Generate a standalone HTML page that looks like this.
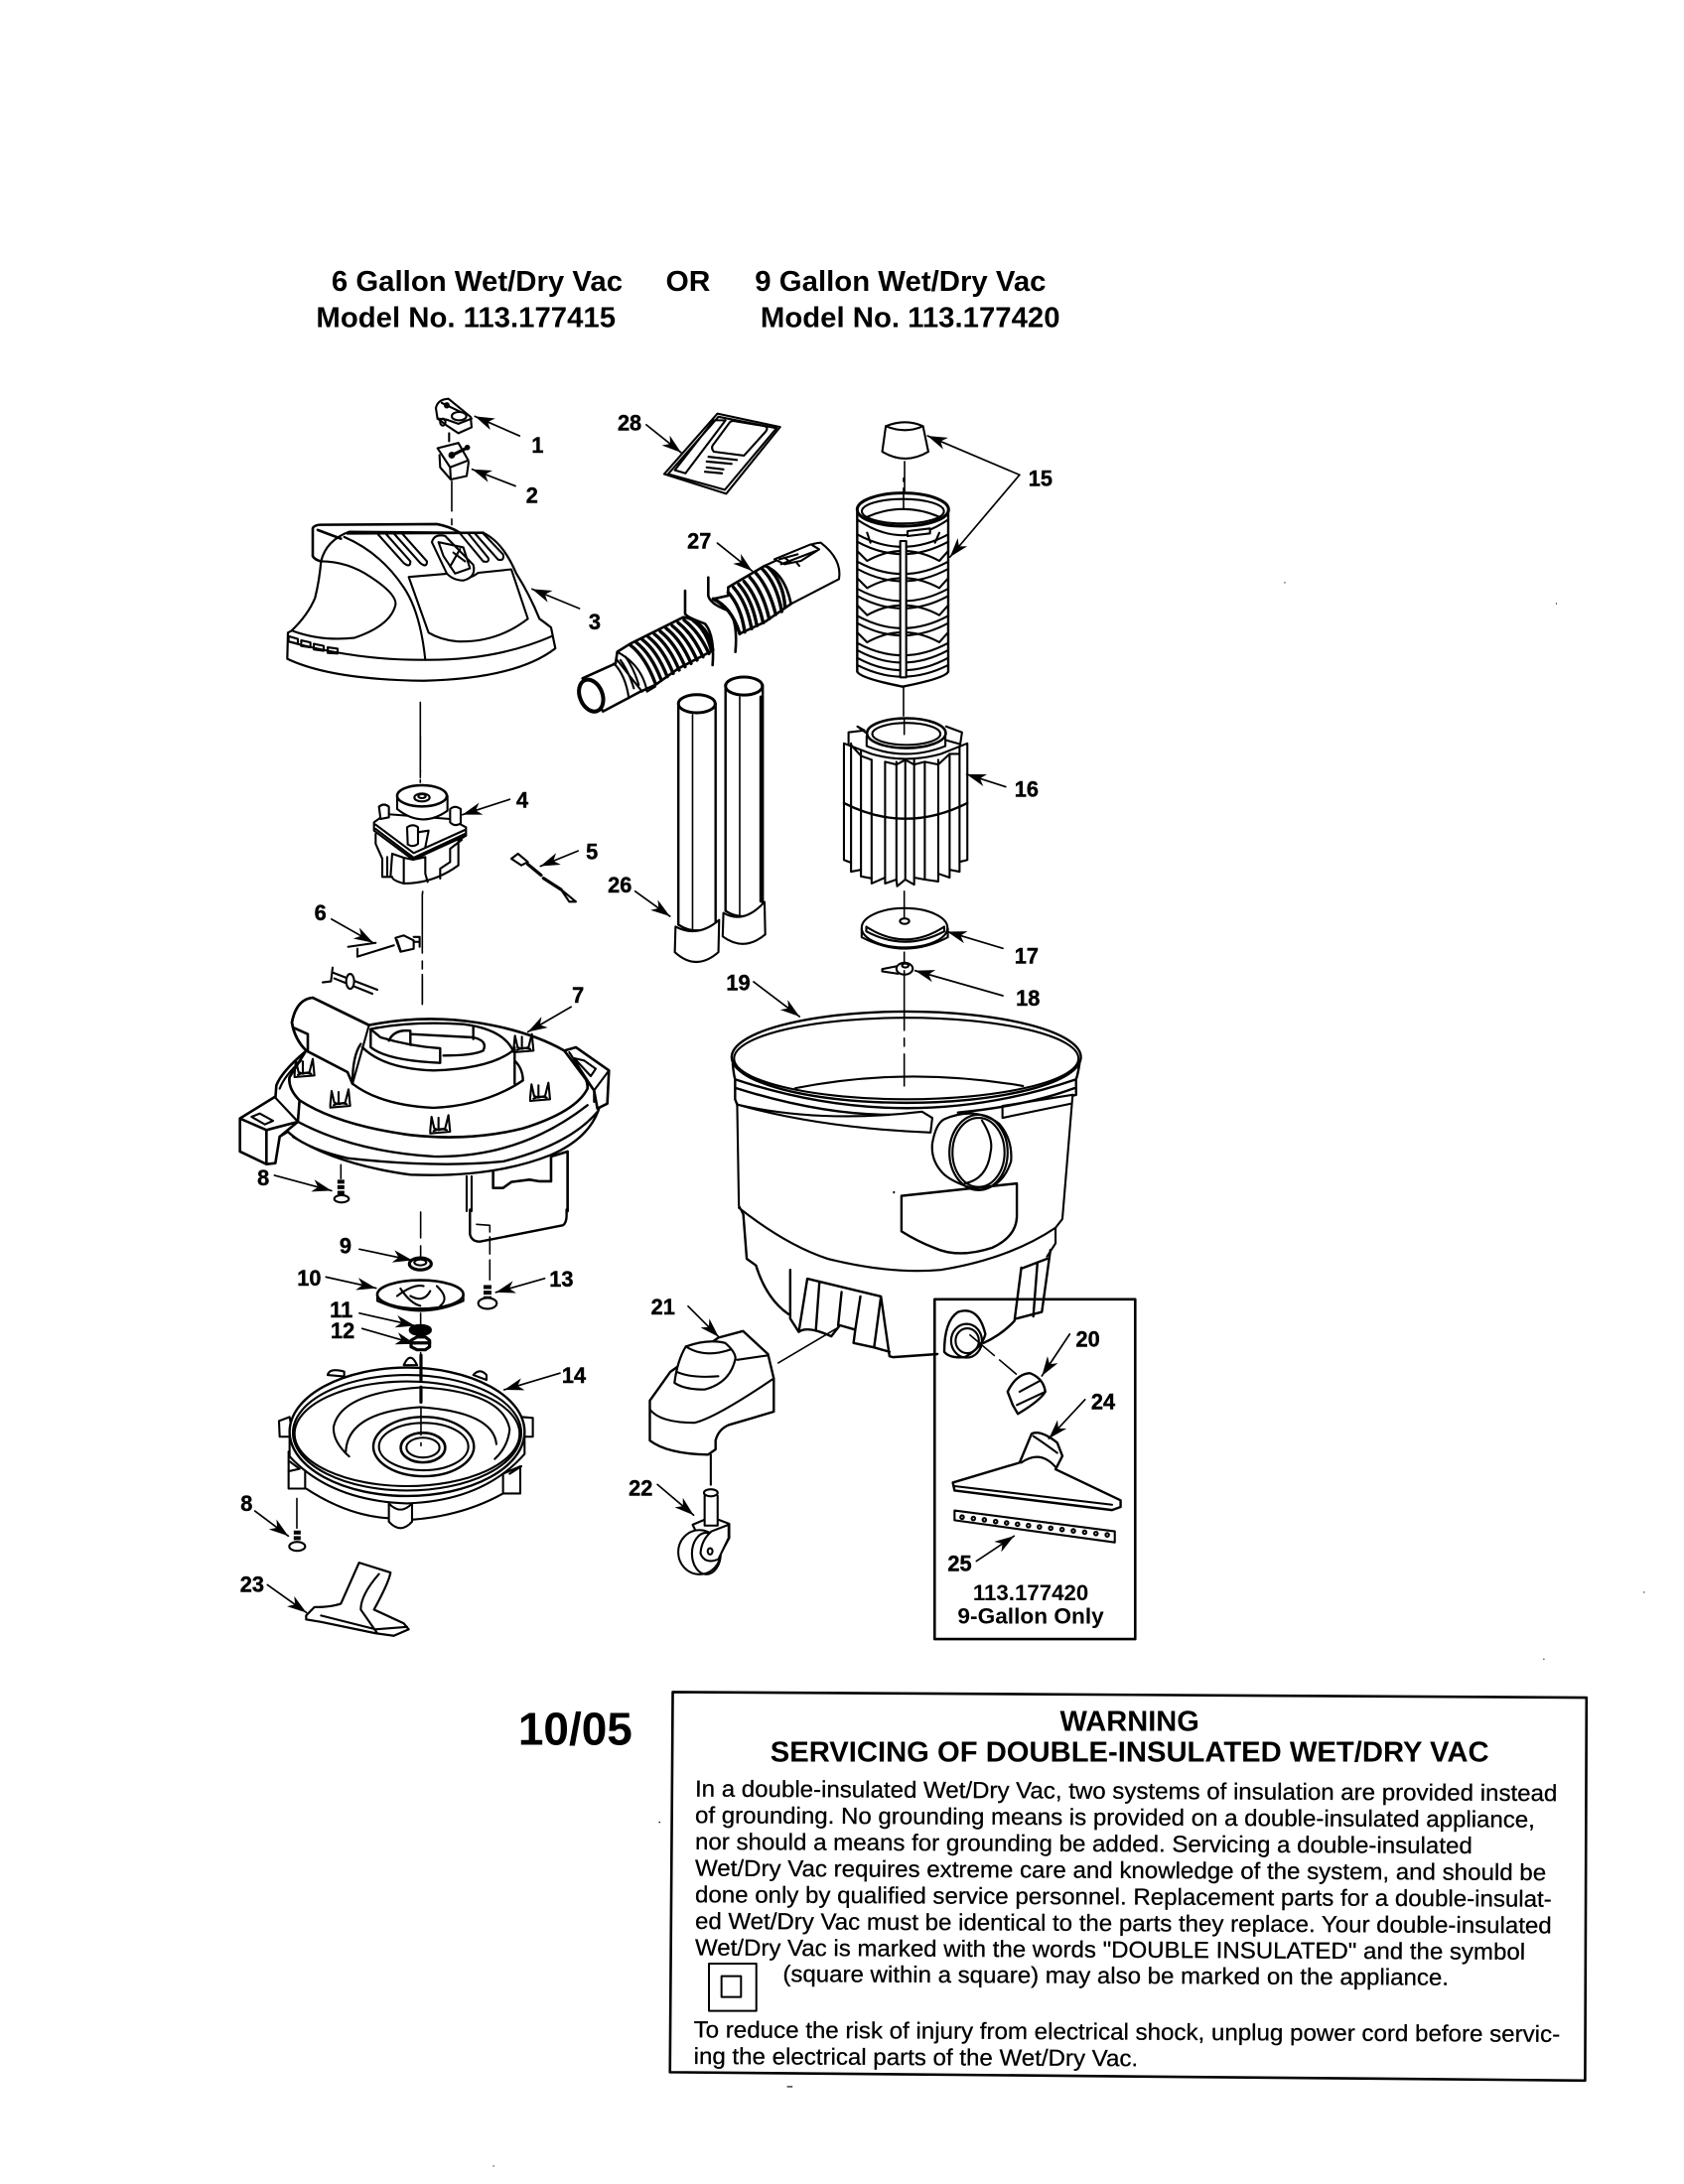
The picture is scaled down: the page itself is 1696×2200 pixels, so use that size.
<!DOCTYPE html>
<html><head><meta charset="utf-8"><style>
html,body{margin:0;padding:0;background:#fff}
svg{display:block}
path,ellipse,line,rect,polygon,circle{vector-effect:non-scaling-stroke;fill:none;stroke:#000;stroke-width:2.1;stroke-linejoin:round;stroke-linecap:round}
.w{fill:#fff}
.k{fill:#000;stroke:none}
.t{stroke-width:3.2}
.h{stroke-width:1.6}
.d{stroke-dasharray:34 7 7 7;stroke-width:1.6}
.a{stroke-width:1.7}
.th{stroke-width:7;stroke-dasharray:4 1.6;stroke-linecap:butt}
marker path{fill:#000;stroke:none}
text{font-family:"Liberation Sans",sans-serif;font-weight:bold;fill:#000}
.n{font-size:15.5px;text-anchor:middle;stroke:#000;stroke-width:.3px}
.b{font-weight:normal;font-size:16.6px;stroke:#000;stroke-width:.2px}
</style></head><body>
<svg xmlns="http://www.w3.org/2000/svg" width="1696" height="2200" viewBox="0 0 1696 2200">
<defs>
<marker id="m" markerUnits="userSpaceOnUse" markerWidth="15" markerHeight="9" viewBox="0 0 15 9" refX="14" refY="4.5" orient="auto"><path d="M0 0L14 4.5L0 9L4 4.5Z"/></marker>
<g id="clip"><path d="M-30 15L-26 -25L-18 10L-5 15L15 10L25 -30L30 20L-30 25Z"/><path d="M-5 -22V14M-20 18Q0 8 20 15"/></g>
</defs>
<rect width="1696" height="2200" style="fill:#fff;stroke:none"/>

<!-- ZOOM 1 : parts 1,2,3 -->
<g transform="translate(200,220) scale(.3333,.3507)">
<path class="w" d="M717 545Q722 520 755 518L822 570L825 600L785 617L750 595L722 575Z"/>
<path d="M735 530L790 555M722 575L750 578L785 590L825 575"/>
<ellipse cx="787" cy="568" rx="22" ry="12"/><circle cx="750" cy="537" r="6"/><ellipse cx="738" cy="585" rx="8" ry="10"/>
<path d="M757 617V640"/>
<path class="w" d="M722 660L785 645L815 695L760 715Z"/>
<path d="M728 680L730 715L762 750L810 740L816 700M760 715L762 750"/>
<path class="t" d="M762 682L815 657"/><circle cx="765" cy="680" r="7"/><circle cx="812" cy="658" r="5"/>
<path class="h" d="M765 755V880" stroke-dasharray="30 8"/>
<path class="w" style="stroke-width:2.2" d="M270 1190L268 1265Q400 1325 680 1328Q960 1322 1078 1235L1065 1175Q1045 1160 1030 1150Q1000 1080 960 1020Q920 930 860 903L455 900Q385 925 370 985Q365 1040 352 1090Q330 1140 280 1185Z"/>
<path style="stroke-width:2.6" d="M345 890Q350 880 370 880L720 878Q760 885 790 903M345 890L345 970Q350 980 370 985M360 895L430 920M450 905L860 903"/>
<path d="M370 985Q450 985 520 1030Q600 1080 595 1110Q580 1170 470 1205Q370 1215 285 1185"/>
<path d="M440 915Q550 960 620 1060Q670 1130 685 1268"/>
<path d="M635 1030L760 1020Q800 1050 845 1018L945 1008L995 1150Q900 1220 780 1215Q730 1210 695 1190Z"/>
<path d="M270 1215Q480 1270 685 1268Q900 1270 1068 1200"/>
<path d="M540 905L620 990Q640 1005 640 985L565 905M590 905L670 990Q690 1005 690 985L615 905M790 905L860 985Q880 990 875 975L815 905M835 905L905 980Q925 985 920 965L860 905"/>
<path class="w" d="M705 930Q712 905 745 912L830 995Q840 1030 800 1040Q770 1040 750 1020Z"/>
<path d="M725 930L800 945L820 1005L775 1020L740 970Z"/><path d="M760 1000L790 950M770 960L805 985"/>
<path d="M272 1200L300 1208L300 1222L272 1215ZM310 1212L338 1218V1232L310 1228ZM348 1222L378 1228V1242L348 1238ZM390 1232L420 1236V1250L390 1248Z"/>
<path class="h" d="M670 1390V1620" stroke-dasharray="70 8 8 8"/>
</g>

<!-- ZOOM 2 : parts 16,17,18,26,28, cap 15 -->
<g transform="translate(560,370) scale(.3571,.3954)">
<path d="M305 272L455 118L632 152L480 322Z"/>
<path d="M316 272L458 126L622 155L476 312ZM335 262L445 135L478 135L365 270Z"/>
<path d="M490 140Q495 135 510 138L590 150Q600 155 590 165L530 225L445 215Q435 205 445 195Z"/>
<path style="stroke-width:2.2" d="M430 228L510 236M425 240L495 246M425 255L472 260M420 266L468 270"/>
<path class="w" style="stroke-width:2.4" d="M345 857V1420Q395 1450 450 1420V857"/>
<ellipse class="w" style="stroke-width:3" cx="397" cy="857" rx="52" ry="23"/>
<path class="h" d="M385 885V1440"/>
<path class="w" d="M337 1425L335 1490Q395 1540 458 1490L460 1408Q400 1455 337 1425Z"/>
<path class="w" style="stroke-width:2.4" d="M478 810V1385Q530 1415 583 1380V810"/>
<ellipse class="w" style="stroke-width:3" cx="530" cy="812" rx="52" ry="23"/>
<path class="h" d="M518 840V1395"/><path class="t" d="M578 840V1360"/>
<path class="w" d="M472 1390L470 1450Q530 1490 590 1445L588 1362Q530 1420 472 1390Z"/>
<path class="w" d="M930 150Q985 130 1035 150L1050 215Q985 250 920 215Z"/>
<path d="M930 150Q985 170 1035 150"/>
<path class="h" d="M983 240V320" stroke-dasharray="30 8"/>
<path class="h" d="M980 812V890" stroke-dasharray="30 8"/>
<!-- 16 -->
<path d="M825 930L870 925L850 915L880 935M1100 915L1145 930L1140 960L1100 950M825 930V960"/>
<path class="w" d="M812 958V1255L832 1262V1285L860 1280V1297L890 1302V1315L928 1300V1315L960 1305L962 1322L985 1305L1010 1318L1010 1300L1040 1305L1078 1310V1290L1110 1300V1280L1138 1285V1260L1160 1255V958L1085 985Q985 1010 890 985Z"/>
<path d="M832 958V1262M860 975V1280M890 1000V1302M928 1005V1300M960 1005V1305M985 1000V1305M1010 1000V1300M1040 1005V1305M1078 1000V1290M1110 985V1280M1138 965V1260"/>
<path d="M832 962L860 990L890 1000M928 1005L960 1012L985 1000L1010 1012L1040 1005L1078 1012L1110 985L1138 985"/>
<path style="stroke-width:2.4" d="M812 1110Q985 1190 1160 1110"/>
<path class="w" d="M876 940V965Q985 1005 1098 965V940"/>
<ellipse class="w" style="stroke-width:2.6" cx="988" cy="932" rx="111" ry="38"/><ellipse cx="988" cy="934" rx="96" ry="28"/>
<path class="h" d="M982 895V935M982 1335V1400" stroke-dasharray="30 8"/>
<!-- 17 -->
<path class="w" d="M862 1430V1452Q985 1510 1105 1452V1430"/>
<ellipse class="w" cx="983" cy="1428" rx="121" ry="50"/>
<path d="M875 1425Q985 1490 1095 1425V1437Q985 1490 875 1437Z"/>
<ellipse cx="983" cy="1411" rx="13" ry="7"/>
<path d="M982 1380V1402" class="h"/>
<!-- 18 -->
<path class="w" d="M920 1533L965 1525V1545L920 1539Z"/>
<ellipse class="w" cx="983" cy="1532" rx="23" ry="15"/><ellipse cx="985" cy="1524" rx="9" ry="5"/>
<path class="h" d="M982 1490V1518"/>
</g>

<!-- Filter cage, exact coords -->
<g transform="translate(840,480) scale(.3333)">
<path class="h" d="M210 5V15M210 35V122"/>
<path class="w" style="stroke-width:2.4" d="M70 100V590Q80 610 207 635Q335 610 345 590V100"/>
<ellipse style="stroke-width:3" cx="208" cy="100" rx="138" ry="50"/>
<ellipse cx="208" cy="105" rx="124" ry="37"/>
<path d="M100 122Q208 75 318 122M70 130Q208 225 345 130"/>
<path d="M70 175Q207 250 345 175M70 197Q207 272 345 197M100 255Q207 195 318 255M70 225L100 255M345 225L318 255"/>
<path d="M70 257Q207 332 345 257M70 279Q207 354 345 279M100 337Q207 277 318 337M70 307L100 337M345 307L318 337"/>
<path d="M70 339Q207 414 345 339M70 361Q207 436 345 361M100 419Q207 359 318 419M70 389L100 419M345 389L318 419"/>
<path d="M70 421Q207 496 345 421M70 443Q207 518 345 443M100 501Q207 441 318 501M70 471L100 501M345 471L318 501"/>
<path d="M70 503Q207 578 345 503M70 525Q207 600 345 525M70 548Q207 623 345 548M70 570Q207 640 345 570"/>
<path d="M100 170L110 200M318 170L305 200"/>
<rect class="w" x="200" y="195" width="18" height="412"/>
<path class="w" d="M222 165L290 157V172L222 180Z"/>
</g>

<!-- Hoses, exact coords -->
<g transform="translate(570,540) scale(.3333)">
<path style="stroke-width:2.6" d="M360 165V235Q365 245 420 265Q450 300 443 390"/>
<path style="stroke-width:2.6" d="M430 125V180Q435 205 490 225Q520 255 512 350"/>
<path class="w" style="stroke-width:2.6" d="M50 430L150 385L155 350L195 325L355 245Q430 260 445 345L340 400L270 450L225 470L112 530Z"/>
<ellipse class="w" style="stroke-width:4" cx="76" cy="482" rx="34" ry="50" transform="rotate(-22 76 482)"/>
<path d="M145 385Q180 420 190 490M155 375L230 470M165 375Q190 410 205 460M180 365Q205 400 220 450"/>
<path d="M155 350Q230 390 245 470L270 455"/>
<path class="t" style="stroke-width:3.4" d="M195 330q45 35 75 115M213 322q45 35 75 113M231 313q45 35 75 112M249 305q45 35 75 110M267 296q45 35 75 109M285 288q45 35 75 107M303 279q45 35 75 106M321 271q45 35 75 104M339 262q45 35 75 103M357 254q45 35 75 101M385 256q40 30 55 92"/>
<path class="w" d="M680 205L825 130Q835 70 770 20Q750 20 720 35L600 90Z"/>
<path class="w" d="M630 70L740 25L765 40L710 75L660 85Z"/>
<path d="M645 70L700 55M650 85L755 45M660 65L680 80M695 78L705 90"/>
<path class="w" style="stroke-width:2.6" d="M445 190L490 180L490 155L600 90Q660 110 680 205L600 260L525 295Q510 230 445 190Z"/>
<path class="t" style="stroke-width:3.4" d="M445 190q55 25 80 105M490 170q40 45 50 120M506 155q40 45 55 125M522 146q40 45 55 125M538 137q40 45 58 125M556 125q40 45 58 125M574 112q40 45 60 125M592 98q45 45 60 130M612 95q45 45 50 120"/>
</g>

<!-- MOTOR -->
<g transform="translate(340,740) scale(.3333)">
<path class="h" d="M250 5V130" stroke-dasharray="24 10"/>
<path class="w" d="M110 265L145 240L340 255L388 280V305L228 378L110 290Z"/>
<path class="w" d="M115 300V330L135 375V430H160L165 360L200 372L228 378L388 305L365 320V395Q290 450 200 450Q165 440 165 430"/>
<path d="M115 272L230 358L385 288M115 285L230 372L385 300"/>
<path d="M228 378L265 370V420L272 445M200 372V448M375 318L340 345V385L310 405V435M150 370V425"/>
<path class="w" d="M180 185V225Q255 285 332 230V185"/>
<ellipse class="w" style="stroke-width:2.5" cx="255" cy="185" rx="75" ry="32"/>
<ellipse cx="255" cy="190" rx="23" ry="12"/><ellipse cx="255" cy="186" rx="11" ry="6"/>
<path class="w" d="M125 218Q140 205 155 218V250L130 255Z"/>
<path class="w" d="M210 280Q228 268 243 280V330Q228 342 212 332Z"/>
<path class="w" d="M340 225Q355 212 372 225V268Q355 280 340 265Z"/>
<path d="M243 295L275 290L265 340"/>
<path class="h" d="M257 474V480"/>
<path class="w" d="M525 375L545 360L575 385L555 395Z"/>
<path class="t" d="M575 392L615 425M622 434L675 468"/>
<path d="M675 468L720 505L700 505Z"/>
</g>

<!-- Part 7 upper, exact coords -->
<g transform="translate(240,980) scale(.3333)">
<path class="h" d="M556 5V95"/>
<path class="w" style="stroke-width:2.6" d="M395 158L225 75Q175 80 162 150Q170 200 205 235L155 315Q150 350 185 385L180 450L112 380L115 340Q130 300 200 240"/>
<path class="w" d="M395 158Q560 125 720 150Q880 175 985 235Q1060 310 1055 350Q1020 420 860 470Q700 510 520 490Q300 460 185 385Q150 350 155 315L205 235L330 300L345 335Z"/>
<path style="stroke-width:2.6" d="M395 158L225 75Q175 80 162 150Q170 200 205 235L330 300L345 335M165 165L210 185V235"/>
<path style="stroke-width:2.6" d="M395 158Q560 125 720 150Q880 175 985 235Q1060 310 1055 350Q1020 420 860 470Q700 510 520 490Q300 460 185 385Q150 350 155 315L205 235"/>
<path d="M125 350Q140 310 190 265"/>
<path style="stroke-width:2.4" d="M345 335Q345 250 370 215M345 335Q430 400 590 408Q750 400 860 325Q860 290 835 265M835 225V335M375 225Q440 290 590 295Q760 290 830 235Q800 170 680 155Q520 145 400 170"/>
<path style="stroke-width:2.4" d="M400 170V225Q450 265 610 272V228Q520 222 430 195L400 170M455 205Q470 170 520 175V218M520 185L710 195Q755 205 740 235Q710 250 620 250M710 165V200"/>
<path class="w" d="M5 440L110 375L180 450L125 495L112 575L85 578L5 540Z"/>
<path style="stroke-width:2.6" d="M5 440L110 375M5 440V540L85 578L112 575L125 495L180 450M5 440L85 475V578M85 475L180 450"/>
<path d="M40 435L65 425L105 447L80 458Z"/>
<path style="stroke-width:2.4" d="M180 450Q350 540 590 555Q850 560 1055 400M150 480Q200 530 330 560Q600 590 800 570Q1000 520 1085 420M125 495L150 480M165 495Q300 580 520 610Q770 620 945 550Q1060 500 1090 410"/>
<path class="w" style="stroke-width:2.6" d="M985 235L1020 225L1120 295L1115 395L1085 410L1075 355Z"/>
<path d="M1120 295L1075 355V390M1000 240L1075 355M1015 258L1045 265L1080 290L1065 312Z"/>
<path style="stroke-width:2.6" d="M770 600V650L800 650L825 632L880 625L910 630H945V555L995 540M995 540V720"/>
<path d="M690 615V720M705 615V720"/>
<use href="#clip" x="200" y="290"/><use href="#clip" x="308" y="382"/><use href="#clip" x="610" y="460"/><use href="#clip" x="862" y="215"/><use href="#clip" x="912" y="362"/>
<path class="h" d="M310 580V622"/>
<path class="th" d="M310 625V672"/><ellipse class="w" cx="312" cy="683" rx="22" ry="11"/>
</g>

<!-- ZOOM 3 : 6,7 lower,8,9-14,23 -->
<g transform="translate(200,900) scale(.3333,.4975)">
<path class="h" d="M676 0V222" stroke-dasharray="60 8 8 8"/>
<path d="M452 108L535 100M480 128L590 105M480 112V128"/>
<path class="w" d="M595 90L620 85L650 95V112L610 118Z"/><path d="M650 88H668V108M650 98H668M600 95L610 115"/>
<path d="M375 180L400 178L405 150M405 160L540 195M410 172L525 203"/><ellipse class="w" cx="458" cy="178" rx="12" ry="15"/>
<path style="stroke-width:2.4" d="M820 640V690Q825 705 850 705L1100 672Q1112 668 1112 650V640"/>
<path class="h" d="M840 670L880 672V730M880 742V790" stroke-dasharray="20 5"/>
<path class="h" d="M297 1225V1285"/>
<path class="th" d="M298 1290V1318"/><ellipse class="w" cx="298" cy="1322" rx="24" ry="9"/>
<path class="th" style="stroke-width:8" d="M873 793V825"/><ellipse class="w" cx="873" cy="830" rx="28" ry="11"/>
<path class="h" d="M671 645V735" stroke-dasharray="26 8"/>
<ellipse class="w t" cx="670" cy="750" rx="33" ry="12"/><ellipse cx="670" cy="747" rx="18" ry="6"/>
<path class="w" d="M540 812V825Q670 865 800 825V812"/>
<ellipse class="w" style="stroke-width:2.6" cx="670" cy="812" rx="130" ry="29"/>
<path d="M600 815Q650 790 680 795M610 800Q640 830 670 835M720 795Q760 820 730 835M640 815Q680 830 700 805"/>
<ellipse class="t" style="stroke-width:6" cx="670" cy="884" rx="26" ry="6"/>
<path class="w t" d="M642 905L660 898H685L698 905V918L685 924H660L642 918Z"/><path d="M642 910H698" class="t"/>
<path class="h" d="M671 850V872M671 930V950"/>
<!-- 14 -->
<path class="w" d="M620 955Q640 925 660 955ZM390 975Q395 960 440 968V978ZM830 975Q850 960 870 975V985Z"/>
<path d="M243 1068L275 1060L285 1100L245 1100ZM975 1060L1010 1062V1100L980 1100Z"/>
<path class="w" d="M275 1095V1140Q400 1230 630 1235Q860 1230 985 1135V1095"/>
<ellipse class="w" style="stroke-width:2.4" cx="630" cy="1090" rx="355" ry="130"/>
<ellipse cx="630" cy="1092" rx="345" ry="117"/><ellipse cx="630" cy="1094" rx="340" ry="106"/>
<path d="M455 1140Q405 1110 408 1080Q430 1010 675 1000Q920 1010 940 1085Q935 1120 895 1145"/>
<path d="M445 1130Q450 1050 670 1040Q890 1050 900 1115"/>
<ellipse style="stroke-width:2.4" cx="680" cy="1120" rx="152" ry="60"/><ellipse cx="680" cy="1120" rx="135" ry="48"/>
<ellipse style="stroke-width:2.6" cx="678" cy="1122" rx="67" ry="30"/><ellipse cx="678" cy="1122" rx="50" ry="20"/>
<path class="t" d="M672 935V1030" stroke-dasharray="25 7"/><path class="h" d="M672 1040V1118" stroke-dasharray="28 8"/>
<path d="M272 1130V1205L322 1205V1170M325 1205Q450 1260 575 1265M645 1268Q800 1260 920 1215"/>
<path class="w" d="M920 1175L972 1160V1215H920Z"/>
<path class="w" d="M575 1235V1272Q610 1298 645 1272V1235Q610 1260 575 1235Z"/>
<path d="M275 1150L305 1165L272 1170M940 1175L975 1160"/>
<!-- 23 -->
<path class="w" style="stroke-width:2.2" d="M325 1462L350 1445Q400 1445 430 1438L485 1355L580 1375Q575 1395 530 1450L620 1478L635 1490L590 1503L535 1498L370 1475L325 1470Z"/>
<path d="M545 1378Q490 1420 490 1450L540 1498M370 1462L535 1490L630 1485"/>
</g>

<!-- ZOOM 4 : 19,20,21,22,24,25 -->
<g transform="translate(620,960) scale(.3448,.4464)">
<path class="h" d="M843 40V300" stroke-dasharray="60 8 8 8"/>
<path style="stroke-width:2.4" d="M373 590L383 690L410 705Q440 780 505 815"/>
<path d="M355 340L360 570L373 590M1335 320L1305 600L1285 620V655L1260 685"/>
<path style="stroke-width:2.2" d="M360 575Q500 660 620 690Q800 725 950 715Q1150 690 1285 620"/>
<ellipse style="stroke-width:2.4" cx="849" cy="235" rx="510" ry="103"/>
<ellipse cx="849" cy="238" rx="503" ry="92"/>
<path d="M525 305Q850 255 1190 300"/>
<path style="stroke-width:2.4" d="M342 250Q345 275 349 285V330L355 342M1355 250Q1350 275 1345 285V320L1335 322M349 285Q600 350 850 350Q1100 350 1345 285M352 305Q600 365 800 365M1000 360Q1200 345 1340 305"/>
<path d="M355 342Q600 395 920 405L925 372L895 358Q600 385 355 342"/>
<path d="M1130 345L1335 320M1130 345V372L1330 340"/>
<path class="w" style="stroke-width:2.2" d="M960 375Q1050 345 1120 385Q1160 420 1155 470Q1130 530 1060 535Q990 520 960 500Q920 470 925 430Q935 385 960 375Z"/>
<ellipse style="stroke-width:2.2" cx="1060" cy="450" rx="85" ry="85"/><ellipse cx="1060" cy="450" rx="76" ry="78"/>
<path d="M1070 378Q1105 420 1095 450Q1085 510 1020 520"/>
<path style="stroke-width:2.4" d="M835 548L1172 520V595Q1170 640 1100 665Q1000 690 930 665Q880 650 835 628Z"/>
<circle class="k" cx="813" cy="540" r="3"/>
<path style="stroke-width:2.4" d="M510 715V825L535 855L560 735L775 775L800 910L810 912L940 905M535 855Q560 840 630 865L655 840L700 850L715 775M695 880L755 890L775 775M695 880L700 850M755 890L800 900M595 745L585 850M660 765L650 840"/>
<path style="stroke-width:2.4" d="M1185 710L1165 830Q1130 860 1075 880M1185 712L1260 690M1270 670L1245 810L1170 825M1232 700L1220 820"/>
<path class="w" style="stroke-width:2.4" d="M960 900Q960 830 1000 810Q1060 795 1080 860Q1070 890 1020 912Q975 915 960 900Z"/>
<ellipse style="stroke-width:2.2" cx="1025" cy="875" rx="45" ry="38"/><ellipse cx="1027" cy="875" rx="34" ry="28"/>
<path class="h" d="M1035 862L1170 950" stroke-dasharray="32 7"/>
<path class="h" d="M475 925L650 845" stroke-dasharray="70 10 10 10"/>
<path class="w" style="stroke-width:2.4" d="M1145 990Q1170 950 1210 948Q1250 960 1255 990Q1240 1010 1175 1040L1160 1020Z"/>
<path d="M1172 1020L1255 990M1180 990L1240 965"/>
<path class="w" style="stroke-width:2.4" d="M985 1195L1180 1150L1215 1085Q1240 1075 1290 1105L1305 1135L1285 1165L1475 1235L1475 1250L1450 1257L990 1213Z"/>
<path d="M1185 1150Q1240 1120 1285 1160M1220 1090Q1250 1105 1290 1128M990 1203L1450 1245"/>
<path d="M990 1258L1458 1305V1330L990 1280Z"/>
<ellipse cx="1012" cy="1273" rx="5" ry="4"/><ellipse cx="1045" cy="1276" rx="5" ry="4"/><ellipse cx="1077" cy="1279" rx="5" ry="4"/><ellipse cx="1110" cy="1283" rx="5" ry="4"/><ellipse cx="1142" cy="1286" rx="5" ry="4"/><ellipse cx="1174" cy="1289" rx="5" ry="4"/><ellipse cx="1206" cy="1292" rx="5" ry="4"/><ellipse cx="1238" cy="1295" rx="5" ry="4"/><ellipse cx="1271" cy="1298" rx="5" ry="4"/><ellipse cx="1304" cy="1301" rx="5" ry="4"/><ellipse cx="1337" cy="1304" rx="5" ry="4"/><ellipse cx="1370" cy="1307" rx="5" ry="4"/><ellipse cx="1403" cy="1310" rx="5" ry="4"/><ellipse cx="1436" cy="1313" rx="5" ry="4"/>
<path class="w" style="stroke-width:2.4" d="M100 1010L160 945L300 868L372 853L445 905L462 960V1035L330 1065Q300 1075 292 1100V1120L270 1132Q150 1130 100 1100Z"/>
<path d="M100 1030Q130 1060 230 1060Q290 1050 462 960M355 918L445 908"/>
<path class="w" style="stroke-width:2.2" d="M172 970Q180 920 205 888Q270 870 320 880Q350 900 350 915Q335 970 260 985Q200 985 172 970Z"/>
<path d="M205 888Q260 915 335 895M178 945Q220 960 300 955"/>
<path d="M278 1132V1200"/>
<path class="w" d="M225 1290L262 1278H298L332 1288V1320L300 1365L250 1330Z"/>
<ellipse class="w" style="stroke-width:2" cx="245" cy="1352" rx="62" ry="50"/>
<ellipse cx="265" cy="1355" rx="42" ry="47"/>
<path class="w" d="M248 1355Q250 1325 280 1305L330 1290V1320L300 1368Q260 1380 248 1355Z"/>
<circle cx="276" cy="1350" r="7"/>
<path class="w" d="M260 1225V1292H298V1225"/>
<ellipse class="w" cx="278" cy="1218" rx="20" ry="8"/>
</g>

<!-- TOP LAYER in display coords -->
<g transform="scale(1.4028)">
<g class="arrows">
<line class="a" x1="373" y1="313" x2="341" y2="299" marker-end="url(#m)"/>
<line class="a" x1="370" y1="349" x2="339" y2="337" marker-end="url(#m)"/>
<line class="a" x1="416" y1="437" x2="382" y2="423" marker-end="url(#m)"/>
<line class="a" x1="366" y1="574" x2="332" y2="585" marker-end="url(#m)"/>
<line class="a" x1="415" y1="611" x2="388" y2="622" marker-end="url(#m)"/>
<line class="a" x1="238" y1="660" x2="268" y2="677" marker-end="url(#m)"/>
<line class="a" x1="410" y1="723" x2="379" y2="741" marker-end="url(#m)"/>
<line class="a" x1="197" y1="844" x2="238" y2="855" marker-end="url(#m)"/>
<line class="a" x1="183" y1="1085" x2="207" y2="1103" marker-end="url(#m)"/>
<line class="a" x1="258" y1="897" x2="296" y2="905" marker-end="url(#m)"/>
<line class="a" x1="234" y1="917" x2="270" y2="925" marker-end="url(#m)"/>
<line class="a" x1="258" y1="943" x2="298" y2="952" marker-end="url(#m)"/>
<line class="a" x1="260" y1="954" x2="298" y2="965" marker-end="url(#m)"/>
<line class="a" x1="391" y1="918" x2="356" y2="928" marker-end="url(#m)"/>
<line class="a" x1="402" y1="986" x2="362" y2="998" marker-end="url(#m)"/>
<line class="a" x1="732" y1="341" x2="666" y2="313" marker-end="url(#m)"/>
<line class="a" x1="732" y1="341" x2="682" y2="400" marker-end="url(#m)"/>
<line class="a" x1="722" y1="565" x2="694" y2="556" marker-end="url(#m)"/>
<line class="a" x1="720" y1="681" x2="680" y2="669" marker-end="url(#m)"/>
<line class="a" x1="720" y1="715" x2="657" y2="697" marker-end="url(#m)"/>
<line class="a" x1="541" y1="705" x2="574" y2="730" marker-end="url(#m)"/>
<line class="a" x1="768" y1="958" x2="748" y2="988" marker-end="url(#m)"/>
<line class="a" x1="494" y1="938" x2="516" y2="960" marker-end="url(#m)"/>
<line class="a" x1="472" y1="1066" x2="498" y2="1088" marker-end="url(#m)"/>
<line class="a" x1="192" y1="1138" x2="220" y2="1158" marker-end="url(#m)"/>
<line class="a" x1="779" y1="1005" x2="753" y2="1033" marker-end="url(#m)"/>
<line class="a" x1="701" y1="1121" x2="728" y2="1103" marker-end="url(#m)"/>
<line class="a" x1="456" y1="640" x2="481" y2="658" marker-end="url(#m)"/>
<line class="a" x1="515" y1="390" x2="540" y2="410" marker-end="url(#m)"/>
<line class="a" x1="464" y1="305" x2="489" y2="325" marker-end="url(#m)"/>
</g>
<text class="n" x="386" y="325">1</text><text class="n" x="382" y="361">2</text><text class="n" x="427" y="452">3</text><text class="n" x="375" y="580">4</text><text class="n" x="425" y="617">5</text><text class="n" x="230" y="661">6</text><text class="n" x="415" y="720">7</text><text class="n" x="189" y="851">8</text><text class="n" x="177" y="1085">8</text><text class="n" x="248" y="900">9</text><text class="n" x="222" y="923">10</text><text class="n" x="245" y="946">11</text><text class="n" x="246" y="961">12</text><text class="n" x="403" y="924">13</text><text class="n" x="412" y="993">14</text><text class="n" x="747" y="349">15</text><text class="n" x="737" y="572">16</text><text class="n" x="737" y="692">17</text><text class="n" x="738" y="722">18</text><text class="n" x="530" y="711">19</text><text class="n" x="781" y="967">20</text><text class="n" x="476" y="944">21</text><text class="n" x="460" y="1074">22</text><text class="n" x="181" y="1143">23</text><text class="n" x="792" y="1012">24</text><text class="n" x="689" y="1128">25</text><text class="n" x="445" y="641">26</text><text class="n" x="502" y="394">27</text><text class="n" x="452" y="309">28</text>

<g style="font-size:20.5px">
<text x="238" y="209" textLength="209" lengthAdjust="spacingAndGlyphs">6 Gallon Wet/Dry Vac</text>
<text x="478" y="209" textLength="32" lengthAdjust="spacingAndGlyphs">OR</text>
<text x="542" y="209" textLength="209" lengthAdjust="spacingAndGlyphs">9 Gallon Wet/Dry Vac</text>
<text x="227" y="235" textLength="215" lengthAdjust="spacingAndGlyphs">Model No. 113.177415</text>
<text x="546" y="235" textLength="215" lengthAdjust="spacingAndGlyphs">Model No. 113.177420</text>
</g>

<rect x="671" y="933" width="144" height="244" style="stroke-width:2.6"/>
<text x="740" y="1149" text-anchor="middle" style="font-size:15.5px" textLength="83" lengthAdjust="spacingAndGlyphs">113.177420</text>
<text x="740" y="1166" text-anchor="middle" style="font-size:15.5px" textLength="105" lengthAdjust="spacingAndGlyphs">9-Gallon Only</text>

<text x="372" y="1253" style="font-size:33px" textLength="82" lengthAdjust="spacingAndGlyphs">10/05</text>

<polygon points="483,1215 1139,1219 1138,1494 481,1488" style="stroke-width:2.6"/>
<text x="761" y="1243" style="font-size:20.5px" textLength="100" lengthAdjust="spacingAndGlyphs">WARNING</text>
<text x="553" y="1265" style="font-size:20.5px" textLength="516" lengthAdjust="spacingAndGlyphs">SERVICING OF DOUBLE-INSULATED WET/DRY VAC</text>
<g class="body">
<text class="b" x="499" y="1290" textLength="619" lengthAdjust="spacingAndGlyphs" transform="rotate(.3 499 1290)">In a double-insulated Wet/Dry Vac, two systems of insulation are provided instead</text>
<text class="b" x="499" y="1309" textLength="603" lengthAdjust="spacingAndGlyphs" transform="rotate(.3 499 1309)">of grounding. No grounding means is provided on a double-insulated appliance,</text>
<text class="b" x="499" y="1328" textLength="558" lengthAdjust="spacingAndGlyphs" transform="rotate(.3 499 1328)">nor should a means for grounding be added. Servicing a double-insulated</text>
<text class="b" x="499" y="1347" textLength="611" lengthAdjust="spacingAndGlyphs" transform="rotate(.3 499 1347)">Wet/Dry Vac requires extreme care and knowledge of the system, and should be</text>
<text class="b" x="499" y="1366" textLength="615" lengthAdjust="spacingAndGlyphs" transform="rotate(.3 499 1366)">done only by qualified service personnel. Replacement parts for a double-insulat-</text>
<text class="b" x="499" y="1385" textLength="615" lengthAdjust="spacingAndGlyphs" transform="rotate(.3 499 1385)">ed Wet/Dry Vac must be identical to the parts they replace. Your double-insulated</text>
<text class="b" x="499" y="1404" textLength="596" lengthAdjust="spacingAndGlyphs" transform="rotate(.3 499 1404)">Wet/Dry Vac is marked with the words "DOUBLE INSULATED" and the symbol</text>
<text class="b" x="562" y="1423" textLength="478" lengthAdjust="spacingAndGlyphs" transform="rotate(.3 562 1423)">(square within a square) may also be marked on the appliance.</text>
<text class="b" x="498" y="1463" textLength="622" lengthAdjust="spacingAndGlyphs" transform="rotate(.3 498 1463)">To reduce the risk of injury from electrical shock, unplug power cord before servic-</text>
<text class="b" x="498" y="1482" textLength="319" lengthAdjust="spacingAndGlyphs" transform="rotate(.3 498 1482)">ing the electrical parts of the Wet/Dry Vac.</text>
</g>
<rect x="509" y="1410" width="34" height="34" style="stroke-width:2"/>
<rect x="518" y="1419" width="14" height="15" style="stroke-width:2"/>

<rect class="k" x="473" y="1308" width="1" height="1"/>
<rect class="k" x="565" y="1498" width="4" height=".8"/>
<rect class="k" x="1180" y="1143" width=".8" height=".8"/>
<rect class="k" x="1108" y="1191" width=".8" height=".8"/>
<rect class="k" x="354" y="1555" width=".8" height=".8"/>
<rect class="k" x="922" y="418" width=".8" height=".8"/>
<rect class="k" x="1117" y="433" width=".8" height=".8"/>
</g>
</svg>
</body></html>
